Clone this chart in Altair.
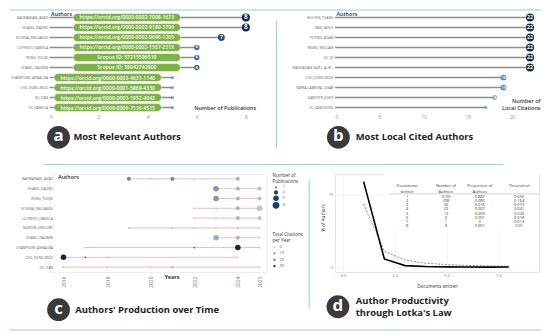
import altair as alt
import pandas as pd

FONT = "Open Sans"
DECO = "#8dd0e8"
BADGE = "#3a3a3a"

# ---------------- data ----------------
a_authors = ["BAHMANIAN_JAVAD", "HUANG_XIAORO", "SCHENA_EMILIANOE", "LO PRESTI_DANIELA",
             "RONG_YOUJIE", "ZHANG_XIAOMIN", "CHAMPIONE_ANNALISA", "CHO_DONG-WOO",
             "DU_DAN", "FEI_JIANHUA"]
a_pubs = [8, 8, 7, 6, 6, 6, 5, 5, 5, 5]
a_ids = ["https://orcid.org/0000-0002-7008-1673", "https://orcid.org/0000-0002-9189-5799",
         "https://orcid.org/0000-0002-9696-1265", "https://orcid.org/0000-0002-1507-231X",
         "Scopus ID: 57215596510", "Scopus ID: 58042742800",
         "https://orcid.org/0000-0003-4631-1140", "https://orcid.org/0000-0001-5869-4330",
         "https://orcid.org/0000-0003-1952-4042", "https://orcid.org/0009-0009-7536-4515"]

b_authors = ["NGUYEN_THANH", "HAN_YAYUE", "POPNIK_ADAM", "WONG_WILLIAM", "XU_JIE",
             "MAHDAVIAN-FAZEL_ALIREZA", "CHO_DONG-WOO", "PARRA-CABRERA_CESAR",
             "SAMITIER_JOSEP", "FU_JIANZHONG"]
b_cites = [22, 22, 22, 22, 22, 22, 19, 19, 18, 17]

c_authors = ["BAHMANIAN_JAVAD", "HUANG_XIAORO", "RONG_YOUJIE", "SCHENA_EMILIANOE",
             "LO PRESTI_DANIELA", "NORDIN_GREGORY", "ZHANG_XIAOMIN", "CHAMPIONE_ANNALISA",
             "CHO_DONG-WOO", "DU_DAN"]
c_pt_author = (["BAHMANIAN_JAVAD"] * 5 + ["HUANG_XIAORO"] * 3 + ["RONG_YOUJIE"] * 3 +
               ["SCHENA_EMILIANOE"] * 4 + ["LO PRESTI_DANIELA"] * 4 + ["NORDIN_GREGORY"] * 6 +
               ["ZHANG_XIAOMIN"] * 3 + ["CHAMPIONE_ANNALISA"] * 4 + ["CHO_DONG-WOO"] * 4 +
               ["DU_DAN"] * 5)
c_pt_year = [2019, 2020, 2021, 2022, 2024,
             2023, 2024, 2025,
             2023, 2024, 2025,
             2022, 2023, 2024, 2025,
             2022, 2023, 2024, 2025,
             2019, 2021, 2022, 2023, 2024, 2025,
             2023, 2024, 2025,
             2017, 2022, 2024, 2025,
             2016, 2017, 2018, 2024,
             2016, 2018, 2020, 2021, 2025]
c_pt_pubs = [2, 1, 2, 1, 2,
             3, 2, 2,
             3, 2, 2,
             1, 1, 2, 3,
             1, 1, 2, 2,
             1, 1, 1, 1, 1, 1,
             3, 2, 1,
             1, 1, 3, 1,
             3, 1, 1, 1,
             1, 1, 1, 1, 1]
c_pt_tc = [12, 2, 12, 3, 4,
           10, 4, 2,
           10, 4, 2,
           2, 3, 4, 2,
           2, 3, 4, 2,
           2, 3, 2, 3, 5, 1,
           6, 4, 1,
           2, 20, 30, 1,
           30, 20, 3, 1,
           2, 3, 2, 10, 1]

d_docs = [1, 2, 3, 4, 5, 6, 7, 8]
d_nauth = [3100, 298, 56, 23, 12, 3, 1, 3]
d_prop = [0.887, 0.085, 0.016, 0.007, 0.003, 0.001, 0, 0.001]
d_theo = [0.655, 0.164, 0.073, 0.041, 0.026, 0.018, 0.013, 0.01]
d_headers = ["Documents\nwritten", "Number of\nAuthors", "Proportion of\nAuthors", "Theoretical"]

one = pd.DataFrame({"k": [0]})


def hline(x1, x2, y):
    return alt.Chart(one).mark_rule(color=DECO, strokeWidth=1).encode(
        x=alt.value(x1), x2=alt.value(x2), y=alt.value(y))


def vline(x, y1, y2):
    return alt.Chart(one).mark_rule(color=DECO, strokeWidth=1).encode(
        x=alt.value(x), y=alt.value(y1), y2=alt.value(y2))


def title_text(text, x, y):
    return alt.Chart(one).mark_text(text=text, color="#222222", fontSize=9.5, fontWeight="bold",
                                    font=FONT, align="left", baseline="middle").encode(
        x=alt.value(x), y=alt.value(y))


def badge(letter, x, y, lines, tx, ty, lh=10.5):
    c = alt.Chart(one).mark_circle(size=530, color=BADGE, opacity=1).encode(
        x=alt.value(x), y=alt.value(y))
    l = alt.Chart(one).mark_text(text=letter, color="white", fontSize=17, fontWeight="bold",
                                 font=FONT, align="center", baseline="middle", dy=-1).encode(
        x=alt.value(x), y=alt.value(y))
    n = len(lines)
    ts = [title_text(t, tx, ty + (i - (n - 1) / 2) * lh) for i, t in enumerate(lines)]
    return [c, l] + ts


name_axis = dict(titleAngle=0, titleAlign="left", titleBaseline="middle",
                 titleFontSize=5.5, titleFontWeight=600, titleColor="#333333",
                 labelFontSize=3.4, labelColor="#666666", labelPadding=2, labelLimit=42,
                 ticks=False, domain=False, grid=False)

# ---------------- panel a ----------------
dfa = pd.DataFrame({"author": a_authors, "pubs": a_pubs, "orcid": a_ids})
xa = alt.Scale(domain=[0, 8.4], nice=False, zero=False)
ya_s = alt.Scale(type="point", padding=0.5)
base_a = alt.Chart(dfa)
a_rule = base_a.mark_rule(color="#8c8c8c", strokeWidth=1.6).encode(
    x=alt.X("pubs:Q", scale=xa, axis=alt.Axis(
        values=[0, 2, 4, 6, 8], title="Number of  Publications", titleAlign="right",
        titleX=208, titleY=-2, titleBaseline="bottom", titleFontSize=5.5,
        titleFontWeight=600, titleColor="#333333", labelFontSize=4.6,
        labelColor="#888888", labelPadding=2, ticks=False, domain=False, grid=False)),
    x2=alt.datum(0),
    y=alt.Y("author:N", sort=a_authors, scale=ya_s,
            axis=alt.Axis(title="Authors", titleX=1, titleY=1.5, **name_axis)))
pill_base = base_a.transform_calculate(
    pc="datum.pubs >= 6 ? 3.15 : 2.37",
    p0="(datum.pubs >= 6 ? 3.15 : 2.37) - 2.19",
    p1="(datum.pubs >= 6 ? 3.15 : 2.37) + 2.19")
a_pill = pill_base.mark_bar(height=8, cornerRadius=4, color="#7cb342", stroke="white",
                            strokeWidth=0.5).encode(
    x=alt.X("p0:Q", scale=xa), x2="p1:Q",
    y=alt.Y("author:N", sort=a_authors, scale=ya_s))
a_pill_t = pill_base.mark_text(color="white", fontSize=5.2, font=FONT, fontWeight=600).encode(
    x=alt.X("pc:Q", scale=xa),
    y=alt.Y("author:N", sort=a_authors, scale=ya_s), text="orcid:N")
a_pt = base_a.mark_circle(opacity=1).encode(
    x=alt.X("pubs:Q", scale=xa),
    y=alt.Y("author:N", sort=a_authors, scale=ya_s),
    size=alt.Size("pubs:Q", scale=alt.Scale(domain=[5, 8], range=[11, 66]), legend=None),
    color=alt.Color("pubs:Q", scale=alt.Scale(domain=[5, 6, 7, 8],
                    range=["#4677ae", "#3a6ca4", "#1f4a7e", "#14253f"]), legend=None))
a_num = base_a.mark_text(color="white", fontWeight="bold", font=FONT).encode(
    x=alt.X("pubs:Q", scale=xa),
    y=alt.Y("author:N", sort=a_authors, scale=ya_s),
    text="pubs:Q",
    size=alt.Size("pubs:Q", scale=alt.Scale(domain=[5, 8], range=[2.5, 6.5]), legend=None))
panel_a = alt.layer(
    a_rule, a_pill, a_pill_t, a_pt, a_num,
    hline(-40.5, 496, -2.5), vline(229, 9, 137),
    *badge("a", 9, 126, ["Most Relevant Authors"], 24, 126)
).resolve_scale(size="independent").properties(width=208, height=101)

# ---------------- panel b ----------------
dfb = pd.DataFrame({"author": b_authors, "cites": b_cites})
xb = alt.Scale(domain=[0, 22.9], nice=False, zero=False)
base_b = alt.Chart(dfb)
b_rule = base_b.mark_rule(color="#8c8c8c", strokeWidth=1.6).encode(
    x=alt.X("cites:Q", scale=xb, axis=alt.Axis(
        values=[0, 5, 10, 15, 20], title=["Number of", "Local Citations"], titleAlign="right",
        titleX=207, titleY=-9, titleBaseline="bottom", titleFontSize=5.5,
        titleFontWeight=600, titleColor="#333333", titleLineHeight=7, labelFontSize=4.6,
        labelColor="#888888", labelPadding=2, ticks=False, domain=False, grid=False)),
    x2=alt.datum(0),
    y=alt.Y("author:N", sort=b_authors, scale=ya_s,
            axis=alt.Axis(title="Authors", titleX=1, titleY=1.5, **name_axis)))
b_pt = base_b.mark_circle(opacity=1).encode(
    x=alt.X("cites:Q", scale=xb),
    y=alt.Y("author:N", sort=b_authors, scale=ya_s),
    size=alt.Size("cites:Q", scale=alt.Scale(domain=[17, 22], range=[11, 66]), legend=None),
    color=alt.Color("cites:Q", scale=alt.Scale(domain=[17, 18, 19, 22],
                    range=["#6e9ccb", "#5b8ec4", "#4d82ba", "#132a4a"]), legend=None))
b_num = base_b.mark_text(color="white", fontWeight="bold", font=FONT).encode(
    x=alt.X("cites:Q", scale=xb),
    y=alt.Y("author:N", sort=b_authors, scale=ya_s),
    text="cites:Q",
    size=alt.Size("cites:Q", scale=alt.Scale(domain=[17, 22], range=[2.2, 5.2]), legend=None))
panel_b = alt.layer(
    b_rule, b_pt, b_num,
    *badge("b", 3.5, 126, ["Most Local Cited Authors"], 21, 126)
).resolve_scale(size="independent").properties(width=205, height=101)

# ---------------- panel c ----------------
dfc = pd.DataFrame({"author": c_pt_author, "year": c_pt_year, "npub": c_pt_pubs, "tcpy": c_pt_tc})
xc = alt.Scale(domain=[2015.364, 2025.32], nice=False, zero=False)
yc_s = alt.Scale(type="point", padding=0.5)
base_c = alt.Chart(dfc)
c_rule = base_c.mark_rule(color="#e2a3a3", strokeWidth=0.7).encode(
    x=alt.X("min(year):Q", scale=xc, axis=alt.Axis(
        values=[2016, 2018, 2020, 2022, 2024, 2025], format="d", labelAngle=270,
        labelFontSize=5, labelColor="#777777", labelPadding=4, ticks=False, domain=False,
        grid=False, title="Years", titleX=123, titleY=5, titleBaseline="middle",
        titleFontSize=5.5, titleFontWeight="bold", titleColor="#333333")),
    x2="max(year):Q",
    y=alt.Y("author:N", sort=c_authors, scale=yc_s,
            axis=alt.Axis(title="Authors", titleX=8, titleY=3,
                          **{**name_axis, "labelPadding": -3})))
c_pt = base_c.mark_circle(opacity=1).encode(
    x=alt.X("year:Q", scale=xc),
    y=alt.Y("author:N", sort=c_authors, scale=yc_s),
    size=alt.Size("npub:Q", title=["Number of", "Publications"],
                  scale=alt.Scale(domain=[1, 4], range=[3, 46]),
                  legend=alt.Legend(orient="none", legendX=225, legendY=-1, values=[1, 2, 3, 4],
                                    format="d", titleFontSize=4.6, titleFontWeight="normal",
                                    titleColor="#333333", titleLineHeight=6, titlePadding=2,
                                    labelFontSize=4, labelColor="#555555", rowPadding=0.5,
                                    padding=0, symbolFillColor="#1d3d6c",
                                    symbolStrokeColor="#1d3d6c", symbolStrokeWidth=0,
                                    symbolOpacity=1, symbolType="circle", labelOffset=3)),
    color=alt.Color("tcpy:Q", title=["Total Citations", "per Year"],
                    scale=alt.Scale(domain=[0, 30], range=["#c7ced8", "#0c2858"]),
                    legend=alt.Legend(type="symbol", orient="none", legendX=225, legendY=59,
                                      values=[0, 10, 20, 30], format="d", titleFontSize=4.6,
                                      titleFontWeight="normal", titleColor="#333333",
                                      titleLineHeight=6, titlePadding=2, labelFontSize=4,
                                      labelColor="#555555", rowPadding=2.5, padding=0,
                                      symbolSize=5, symbolType="circle", labelOffset=3)))
panel_c = alt.layer(
    c_rule, c_pt,
    hline(-6, 458, -9.5), hline(-40.5, 496, 157.5),
    *badge("c", 9, 137, ["Authors' Production over Time"], 26, 137)
).properties(width=219, height=99, view=alt.ViewBackground(stroke="#ececec"))

# ---------------- panel d ----------------
dfd = pd.DataFrame({"docs": d_docs, "obs": [p * 100 for p in d_prop],
                    "theo": [t * 100 for t in d_theo]})
xd = alt.Scale(domain=[-0.382, 9.46], nice=False, zero=False)
yd = alt.Scale(domain=[-5.1, 96.6], nice=False, zero=False)
TCOL = [3.1, 4.97, 6.6, 8.5]
ROW0, ROWSTEP = 72.9, 4.36
cells = []
for i in range(len(d_docs)):
    vals = [str(d_docs[i]), str(d_nauth[i]), f"{d_prop[i]:g}", f"{d_theo[i]:g}"]
    for j, v in enumerate(vals):
        cells.append({"cx": TCOL[j], "cy": ROW0 - ROWSTEP * i, "t": v})
dft = pd.DataFrame(cells)
dfh = pd.DataFrame({"cx": TCOL, "cy": [84.2] * 4, "t": d_headers})
dfbox = pd.DataFrame({"x0": [1.95], "x1": [9.46], "y0": [38.0], "y1": [96.6]})
dfsep = pd.DataFrame({"x0": [2.25], "x1": [9.46], "y0": [76.0]})

d_theo_l = alt.Chart(dfd).mark_line(color="#6a6a6a", strokeWidth=0.8, strokeDash=[2, 1.5]).encode(
    x=alt.X("docs:Q", scale=xd, axis=alt.Axis(
        values=[0, 2.5, 5, 7.5], format=".1f", labelFontSize=4.2, labelColor="#777777",
        labelPadding=2, ticks=False, domain=False, grid=True, gridColor="#ebebeb",
        gridWidth=0.6, title="Documents written", titleFontSize=4.6,
        titleFontWeight="normal", titleColor="#333333", titleY=15, titleBaseline="middle")),
    y=alt.Y("theo:Q", scale=yd, axis=alt.Axis(
        values=[0, 25, 50, 75], labelFontSize=4.2, labelColor="#777777", labelPadding=2,
        ticks=False, domain=False, grid=True, gridColor="#ebebeb", gridWidth=0.6,
        title="% of Authors", titleFontSize=4.6, titleFontWeight="normal",
        titleColor="#333333", titleX=-12, titleY=44, titleAlign="center",
        titleBaseline="middle")))
d_box = alt.Chart(dfbox).mark_rect(color="white").encode(
    x=alt.X("x0:Q", scale=xd), x2="x1:Q",
    y=alt.Y("y0:Q", scale=yd), y2="y1:Q")
d_obs_l = alt.Chart(dfd).mark_line(color="black", strokeWidth=1.6).encode(
    x=alt.X("docs:Q", scale=xd), y=alt.Y("obs:Q", scale=yd))
d_sep = alt.Chart(dfsep).mark_rule(color="#9a9a9a", strokeWidth=0.4).encode(
    x=alt.X("x0:Q", scale=xd), x2="x1:Q", y=alt.Y("y0:Q", scale=yd))
d_cells = alt.Chart(dft).mark_text(fontSize=4, color="#333333", font=FONT).encode(
    x=alt.X("cx:Q", scale=xd), y=alt.Y("cy:Q", scale=yd), text="t:N")
d_head = alt.Chart(dfh).mark_text(fontSize=4, color="#333333", font=FONT, lineBreak="\n",
                                   lineHeight=6, baseline="middle").encode(
    x=alt.X("cx:Q", scale=xd), y=alt.Y("cy:Q", scale=yd), text="t:N")
panel_d = alt.layer(
    d_theo_l, d_box, d_obs_l, d_sep, d_cells, d_head,
    vline(-26, 6, 136),
    *badge("d", 3, 134, ["Author Productivity", "through Lotka's Law"], 21, 134, lh=12.5)
).properties(width=206, height=99, view=alt.ViewBackground(stroke="#e4e4e4"))

chart = alt.concat(panel_a, panel_b, panel_c, panel_d, columns=2,
                   spacing={"row": 62, "column": 69}, bounds="flush").resolve_scale(
    color="independent", size="independent").properties(padding=0).configure(
    font=FONT).configure_view(stroke=None).configure_axis(
    labelFont=FONT, titleFont=FONT).configure_legend(labelFont=FONT, titleFont=FONT)

chart.save("out.html", embed_options={"renderer": "svg", "actions": False})
